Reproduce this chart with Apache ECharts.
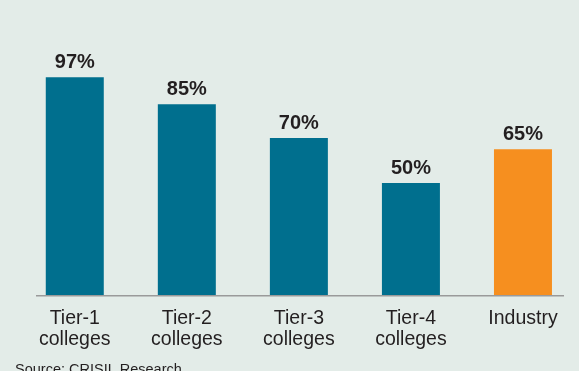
<!DOCTYPE html>
<html>
<head>
<meta charset="utf-8">
<style>
  html, body { margin: 0; padding: 0; background: #e3ece8; }
  #chart { width: 579px; height: 371px; }
</style>
<script src="https://cdn.jsdelivr.net/npm/echarts@6/dist/echarts.min.js"></script>
</head>
<body>
<div id="chart"></div>
<script>
const categories = ["Tier-1\ncolleges", "Tier-2\ncolleges", "Tier-3\ncolleges", "Tier-4\ncolleges", "Industry"];
const values = [97, 85, 70, 50, 65];
const barColors = ["#006f8e", "#006f8e", "#006f8e", "#006f8e", "#f68f1f"];
const sourceText = "Source: CRISIL Research";

const chart = echarts.init(document.getElementById('chart'), null, { renderer: 'canvas' });
chart.setOption({
  backgroundColor: '#e3ece8',
  animation: false,
  grid: { left: 18.75, width: 562.5, top: 70.5, height: 225 },
  xAxis: {
    type: 'category',
    data: categories,
    axisLine: { show: false },
    axisTick: { show: false },
    axisLabel: {
      color: '#231f20',
      fontFamily: 'Liberation Sans, Arial, sans-serif',
      fontSize: 19.5,
      lineHeight: 21,
      margin: 13,
      interval: 0,
      verticalAlign: 'top'
    }
  },
  yAxis: {
    type: 'value', min: 0, max: 100, show: false,
    splitLine: { show: false }
  },
  series: [{
    type: 'bar',
    barWidth: 58,
    data: values.map((v, i) => ({ value: v, itemStyle: { color: barColors[i] } })),
    label: {
      show: true,
      position: 'top',
      distance: 5,
      formatter: '{c}%',
      color: '#231f20',
      fontFamily: 'Liberation Sans, Arial, sans-serif',
      fontWeight: 'bold',
      fontSize: 20
    }
  }],
  graphic: [
    {
      type: 'line',
      shape: { x1: 36, y1: 295.7, x2: 564, y2: 295.7 },
      style: { stroke: '#9a9a9a', lineWidth: 1.5 },
      z: 10
    },
    {
      type: 'text',
      left: 15, top: 362,
      style: {
        text: sourceText,
        fill: '#231f20',
        font: '14.5px "Liberation Sans", Arial, sans-serif'
      }
    }
  ]
});
</script>
</body>
</html>
